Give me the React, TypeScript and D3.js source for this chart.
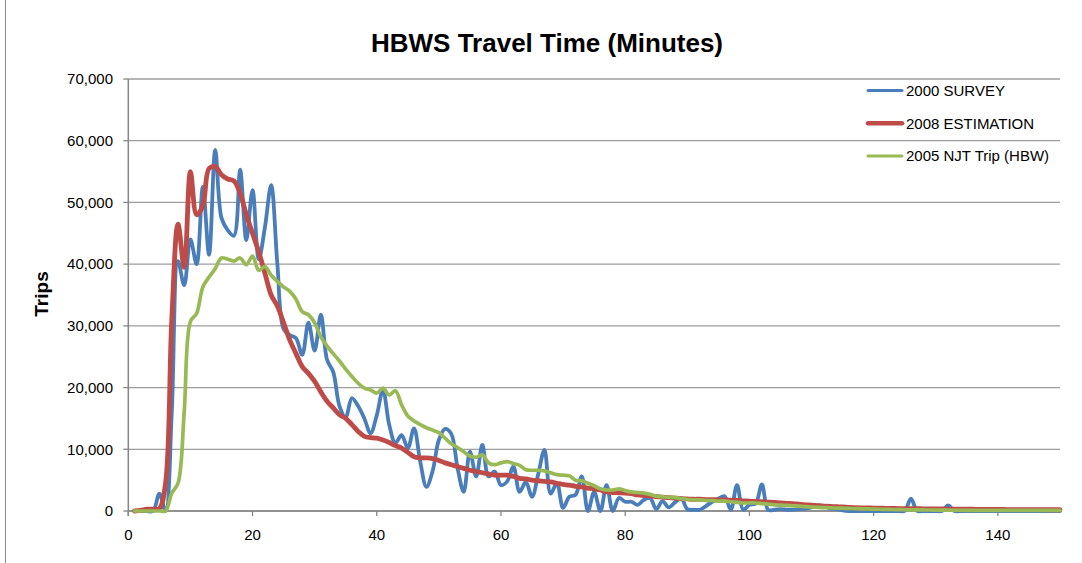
import React from "react";
import * as d3 from "d3";

// Trips by travel time (minutes 1..150)
const minutes: number[] = d3.range(1, 151);

const survey2000: number[] = [
  0, 0, 0, 0, 2800, 0, 16000, 40500, 36600, 44000,
  40000, 52500, 41500, 58500, 47500, 45500, 44600, 55300, 43900, 52000,
  40800, 46000, 52800, 40000, 29500, 28500, 28000, 25300, 30500, 26000,
  31800, 24500, 22500, 17000, 15200, 18300, 17000, 15000, 12600, 15500,
  19600, 14000, 11000, 12300, 10200, 13400, 8000, 3900, 6500, 11500,
  13300, 12500, 7000, 3100, 9600, 5600, 10700, 5600, 6400, 4200,
  4800, 7200, 3100, 4700, 2300, 6000, 9900, 2800, 4500, 500,
  2300, 2600, 5600, 0, 3100, 0, 4200, 0, 2100, 1500,
  1500, 1000, 1800, 2100, 300, 1600, 600, 1400, 2100, 300,
  200, 200, 800, 1500, 2000, 2400, 200, 4200, 200, 1000,
  1200, 4300, 200, 200, 300, 200, 200, 300, 400, 600,
  900, 800, 400, 300, 100, 0, 0, 0, 0, 0,
  0, 0, 0, 0, 0, 2000, 0, 0, 0, 0,
  0, 900, 0, 0, 0, 0, 0, 0, 0, 0,
  0, 0, 0, 0, 0, 0, 0, 0, 0, 0,
];

const estimation2008: number[] = [
  0, 100, 300, 300, 400, 4500, 31000, 46500, 39500, 55000,
  48000, 49500, 55500, 55800, 54500, 53800, 53500, 51500, 48000, 45000,
  42000, 38500, 35000, 33200, 30500, 27700, 25500, 23400, 22300, 21000,
  19300, 17800, 16700, 15600, 15000, 14000, 12900, 12100, 11900, 11800,
  11500, 11100, 10600, 10200, 9500, 8800, 8600, 8600, 8500, 8200,
  7800, 7500, 7200, 6900, 6600, 6400, 6200, 6000, 5800, 5800,
  5800, 5600, 5300, 5200, 5000, 4900, 4800, 4700, 4500, 4300,
  4200, 4000, 3900, 3700, 3600, 3400, 3100, 3000, 2950, 2900,
  2800, 2600, 2500, 2450, 2350, 2250, 2150, 2100, 2000, 1950,
  1900, 1900, 1850, 1850, 1800, 1800, 1750, 1700, 1650, 1600,
  1550, 1500, 1450, 1400, 1300, 1250, 1200, 1100, 1000, 950,
  850, 800, 750, 700, 650, 600, 550, 520, 500, 480,
  460, 440, 420, 400, 390, 380, 370, 360, 350, 340,
  330, 320, 310, 300, 290, 280, 270, 260, 250, 245,
  240, 235, 230, 225, 220, 215, 210, 205, 200, 200,
];

const njtTrip2005: number[] = [
  0, 0, 0, 0, 0, 0, 2900, 4500, 16000, 30700,
  32000, 36300, 37900, 39300, 41000, 40800, 40500, 41000, 39900, 41300,
  39000, 39600, 38200, 37200, 36300, 35600, 34300, 32300, 31800, 30500,
  28200, 26700, 25500, 24300, 23000, 21800, 20700, 19900, 19600, 19100,
  19900, 18800, 19500, 17200, 15400, 14600, 14000, 13500, 13100, 12700,
  11800, 10900, 10300, 9600, 8900, 8700, 9100, 7800, 7500, 7800,
  8000, 7700, 7400, 6700, 6600, 6600, 6500, 6200, 5900, 5800,
  5700, 5000, 4900, 4500, 4100, 3600, 3400, 3400, 3600, 3300,
  3100, 3000, 2900, 2700, 2400, 2300, 2200, 2200, 2000, 1900,
  1800, 1800, 1700, 1700, 1600, 1600, 1500, 1400, 1300, 1300,
  1300, 1200, 1100, 1000, 950, 900, 850, 800, 700, 650,
  600, 560, 520, 480, 450, 420, 390, 360, 330, 300,
  280, 260, 240, 220, 200, 190, 180, 170, 160, 150,
  140, 130, 120, 120, 110, 110, 100, 100, 100, 100,
  100, 100, 100, 100, 100, 100, 100, 100, 100, 100,
];

const seriesNames: string[] = ["2000 SURVEY", "2008 ESTIMATION", "2005 NJT Trip (HBW)"];
const yTicks: number[] = [0, 10000, 20000, 30000, 40000, 50000, 60000, 70000];
const xTicks: number[] = [0, 20, 40, 60, 80, 100, 120, 140];

const W = 1082;
const H = 563;
const FONT = "'Liberation Sans', Arial, sans-serif";

export default function App() {
  const x = d3.scaleLinear().domain([0, 150]).range([128.3, 1060]);
  const y = d3.scaleLinear().domain([0, 70000]).range([511, 79]);

  const series = [
    { name: seriesNames[0], values: survey2000, color: "#4A7EBB", width: 3.8, legendWidth: 3 },
    { name: seriesNames[1], values: estimation2008, color: "#BE4B48", width: 4.8, legendWidth: 4.5 },
    { name: seriesNames[2], values: njtTrip2005, color: "#98B954", width: 3.7, legendWidth: 3 },
  ];

  const line = d3
    .line<number>()
    .x((_, i) => x(minutes[i]))
    .y((v) => y(v))
    .curve(d3.curveCatmullRom.alpha(0.5));

  const fmt = d3.format(",");
  const [x0, x1] = x.range();
  const [yBottom, yTop] = y.range();

  return (
    <svg
      width={W}
      height={H}
      style={{ position: "absolute", left: 0, top: 0, background: "#fff" }}
      fontFamily={FONT}
    >
      <rect x={0} y={0} width={W} height={H} fill="#fff" />
      {/* chart frame, left edge visible */}
      <line x1={5.5} x2={5.5} y1={0} y2={H} stroke="#8c8c8c" strokeWidth={1} />

      <text x={547} y={52} textAnchor="middle" fontSize={26} fontWeight="bold" fill="#000">
        HBWS Travel Time (Minutes)
      </text>

      {/* gridlines */}
      {yTicks.map((t) => (
        <line key={"g" + t} x1={x0} x2={x1} y1={y(t)} y2={y(t)} stroke="#9d9d9d" strokeWidth={1.3} />
      ))}

      {/* axes */}
      <line x1={x0} x2={x0} y1={yTop} y2={yBottom + 5} stroke="#868686" strokeWidth={1.5} />
      <line x1={x0} x2={x1} y1={yBottom} y2={yBottom} stroke="#868686" strokeWidth={1.5} />
      {yTicks.map((t) => (
        <g key={"yt" + t}>
          <line x1={x0 - 5} x2={x0} y1={y(t)} y2={y(t)} stroke="#868686" strokeWidth={1.3} />
          <text x={113} y={y(t)} dy="0.35em" textAnchor="end" fontSize={15} fill="#000">
            {fmt(t)}
          </text>
        </g>
      ))}
      {xTicks.map((t) => (
        <g key={"xt" + t}>
          <line x1={x(t)} x2={x(t)} y1={yBottom} y2={yBottom + 5} stroke="#868686" strokeWidth={1.3} />
          <text x={x(t)} y={540} textAnchor="middle" fontSize={15} fill="#000">
            {t}
          </text>
        </g>
      ))}

      <text
        transform="translate(48,294) rotate(-90)"
        textAnchor="middle"
        fontSize={19}
        fontWeight="bold"
        fill="#000"
      >
        Trips
      </text>

      {/* series */}
      {series.map((s) => (
        <path
          key={s.name}
          d={line(s.values) ?? ""}
          fill="none"
          stroke={s.color}
          strokeWidth={s.width}
          strokeLinejoin="round"
          strokeLinecap="round"
        />
      ))}

      {/* legend */}
      {series.map((s, i) => {
        const ly = 90.5 + i * 32.8;
        return (
          <g key={"lg" + s.name}>
            <line x1={868} x2={902} y1={ly} y2={ly} stroke={s.color} strokeWidth={s.legendWidth} strokeLinecap="round" />
            <text x={906} y={ly} dy="0.35em" fontSize={15} fill="#000">
              {s.name}
            </text>
          </g>
        );
      })}
    </svg>
  );
}
